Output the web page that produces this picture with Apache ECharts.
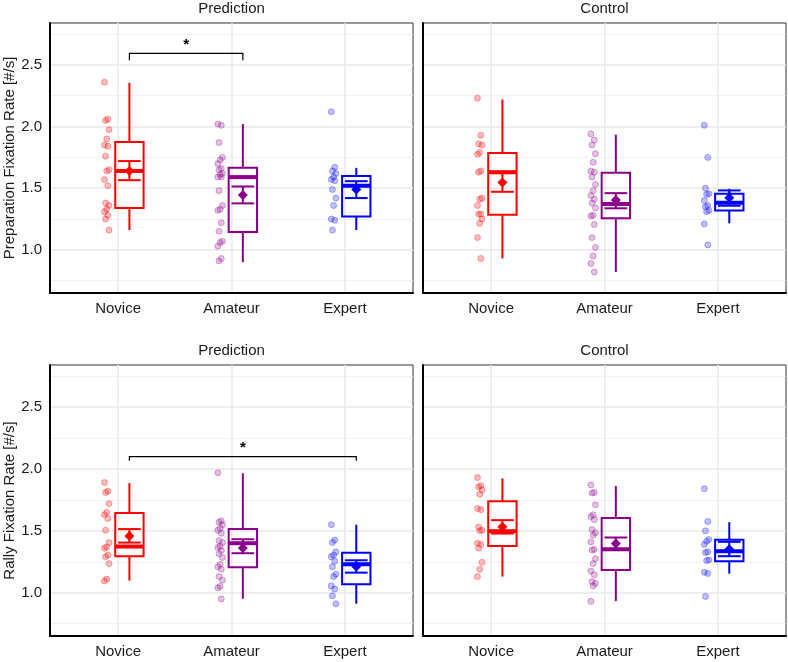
<!DOCTYPE html>
<html>
<head>
<meta charset="utf-8">
<script src="https://cdn.jsdelivr.net/npm/echarts@6/dist/echarts.min.js"></script>
<style>
  html, body { margin: 0; padding: 0; background: #fff; }
  #main { width: 788px; height: 662px; }
</style>
</head>
<body>
<div id="main"></div>
<script>
const groups = ['Novice', 'Amateur', 'Expert'];
const panelTitles = ['Prediction', 'Control', 'Prediction', 'Control'];
const yTitles = ['Preparation Fixation Rate [#/s]', 'Rally Fixation Rate [#/s]'];
const yTicks = [1.0, 1.5, 2.0, 2.5];
const yMinorTicks = [0.75, 1.25, 1.75, 2.25, 2.75];

// preparation, prediction task
const prepPredNovice = [2.36, 2.06, 2.05, 1.975, 1.90, 1.85, 1.84, 1.76, 1.65, 1.64, 1.57, 1.52, 1.38, 1.36, 1.33, 1.31, 1.28, 1.25, 1.16];
const prepPredAmateur = [2.02, 2.01, 1.87, 1.75, 1.73, 1.70, 1.66, 1.65, 1.62, 1.61, 1.59, 1.59, 1.48, 1.36, 1.33, 1.32, 1.22, 1.15, 1.07, 1.06, 1.03, 0.93, 0.91];
const prepPredExpert = [2.12, 1.67, 1.64, 1.62, 1.59, 1.57, 1.56, 1.49, 1.42, 1.36, 1.25, 1.24, 1.16];
// [min, q1, median, q3, max]
const prepPredBox = [[1.16, 1.34, 1.64, 1.875, 2.355], [0.90, 1.145, 1.59, 1.665, 2.02], [1.16, 1.27, 1.52, 1.60, 1.665]];
const prepPredMean = [1.64, 1.445, 1.49];
const prepPredSeLow = [1.565, 1.377, 1.42];
const prepPredSeHigh = [1.72, 1.514, 1.557];

// preparation, control task
const prepCtrlNovice = [2.23, 1.93, 1.86, 1.85, 1.79, 1.775, 1.64, 1.63, 1.42, 1.41, 1.36, 1.29, 1.29, 1.25, 1.215, 1.10, 0.93];
const prepCtrlAmateur = [1.94, 1.89, 1.85, 1.78, 1.71, 1.64, 1.63, 1.59, 1.53, 1.48, 1.44, 1.41, 1.38, 1.34, 1.28, 1.275, 1.205, 1.10, 1.02, 0.95, 0.89, 0.82];
const prepCtrlExpert = [2.01, 1.75, 1.50, 1.455, 1.45, 1.40, 1.36, 1.35, 1.32, 1.31, 1.21, 1.04];
const prepCtrlBox = [[0.93, 1.285, 1.63, 1.786, 2.22], [0.82, 1.256, 1.372, 1.625, 1.934], [1.215, 1.32, 1.382, 1.455, 1.495]];
const prepCtrlMean = [1.547, 1.404, 1.423];
const prepCtrlSeLow = [1.471, 1.337, 1.358];
const prepCtrlSeHigh = [1.622, 1.46, 1.482];

// rally, prediction task
const rallyPredNovice = [1.89, 1.82, 1.81, 1.72, 1.65, 1.63, 1.60, 1.505, 1.405, 1.37, 1.36, 1.305, 1.29, 1.235, 1.11, 1.095];
const rallyPredAmateur = [1.97, 1.58, 1.57, 1.55, 1.52, 1.505, 1.48, 1.42, 1.405, 1.375, 1.365, 1.34, 1.315, 1.285, 1.23, 1.21, 1.19, 1.13, 1.10, 1.05, 1.04, 0.95];
const rallyPredExpert = [1.55, 1.425, 1.405, 1.33, 1.305, 1.29, 1.255, 1.21, 1.15, 1.13, 1.055, 1.03, 0.975, 0.91];
const rallyPredBox = [[1.097, 1.295, 1.373, 1.643, 1.886], [0.951, 1.205, 1.40, 1.514, 1.965], [0.911, 1.068, 1.23, 1.322, 1.549]];
const rallyPredMean = [1.459, 1.362, 1.211];
const rallyPredSeLow = [1.405, 1.319, 1.162];
const rallyPredSeHigh = [1.514, 1.432, 1.262];

// rally, control task
const rallyCtrlNovice = [1.93, 1.865, 1.855, 1.83, 1.795, 1.68, 1.67, 1.53, 1.505, 1.50, 1.40, 1.39, 1.36, 1.245, 1.19, 1.13];
const rallyCtrlAmateur = [1.87, 1.81, 1.805, 1.71, 1.63, 1.615, 1.59, 1.51, 1.485, 1.465, 1.41, 1.35, 1.345, 1.275, 1.235, 1.175, 1.145, 1.09, 1.075, 1.055, 0.93];
const rallyCtrlExpert = [1.84, 1.575, 1.50, 1.43, 1.415, 1.39, 1.33, 1.325, 1.265, 1.26, 1.165, 1.155, 0.97];
const rallyCtrlBox = [[1.13, 1.378, 1.497, 1.738, 1.924], [0.932, 1.184, 1.351, 1.603, 1.862], [1.154, 1.254, 1.335, 1.427, 1.57]];
const rallyCtrlMean = [1.532, 1.397, 1.351];
const rallyCtrlSeLow = [1.478, 1.347, 1.295];
const rallyCtrlSeHigh = [1.586, 1.446, 1.411];

// significance brackets: panel, group indexes, bar height, tip end
const sigBrackets = [
  { panel: 0, from: 0, to: 1, y: 2.594, tip: 2.538, label: '*' },
  { panel: 2, from: 0, to: 2, y: 2.10, tip: 2.067, label: '*' }
];

const panels = [
  { pts: [prepPredNovice, prepPredAmateur, prepPredExpert], box: prepPredBox, mean: prepPredMean, lo: prepPredSeLow, hi: prepPredSeHigh },
  { pts: [prepCtrlNovice, prepCtrlAmateur, prepCtrlExpert], box: prepCtrlBox, mean: prepCtrlMean, lo: prepCtrlSeLow, hi: prepCtrlSeHigh },
  { pts: [rallyPredNovice, rallyPredAmateur, rallyPredExpert], box: rallyPredBox, mean: rallyPredMean, lo: rallyPredSeLow, hi: rallyPredSeHigh },
  { pts: [rallyCtrlNovice, rallyCtrlAmateur, rallyCtrlExpert], box: rallyCtrlBox, mean: rallyCtrlMean, lo: rallyCtrlSeLow, hi: rallyCtrlSeHigh }
];

const colors = ['#FF0000', '#8B008B', '#0000FF'];
const pointFill = ['rgba(255,0,0,0.32)', 'rgba(139,0,139,0.3)', 'rgba(0,0,255,0.3)'];
const pointEdge = ['rgba(255,0,0,0.4)', 'rgba(139,0,139,0.38)', 'rgba(0,0,255,0.38)'];
const FONT = 'Liberation Sans, Arial, sans-serif';
const TXT = '#1a1a1a';

const gridRects = [
  { left: 50, top: 23, width: 363, height: 270 },
  { left: 423, top: 23, width: 363, height: 270 },
  { left: 50, top: 365, width: 363, height: 271 },
  { left: 423, top: 365, width: 363, height: 271 }
];

const BOX_SHIFT = 0.1;   // boxes nudged right of category
const PT_SHIFT = -0.1;   // points nudged left
const BOX_HALF = 0.125;
const CAP_HALF = 0.1;

const grids = [], xAxes = [], yAxes = [], series = [], graphics = [];

gridRects.forEach((g, i) => {
  grids.push(Object.assign({ show: true, borderColor: '#333', borderWidth: 1, backgroundColor: '#fff' }, g));

  xAxes.push({
    type: 'value', gridIndex: i, min: 0.4, max: 3.6,
    axisLine: { show: true, onZero: false, lineStyle: { color: '#000', width: 2 } },
    axisTick: { show: false, customValues: [1, 2, 3] },
    axisLabel: { customValues: [1, 2, 3], formatter: v => groups[Math.round(v) - 1], fontSize: 15, color: TXT, fontFamily: FONT, margin: 8 },
    splitLine: { show: true, lineStyle: { color: '#e8e8e8', width: 1.5 } }
  });

  const isLeft = i % 2 === 0;
  yAxes.push({
    type: 'value', gridIndex: i, min: 0.65, max: 2.84,
    name: isLeft ? yTitles[i / 2] : '',
    nameLocation: 'middle', nameGap: 32,
    nameTextStyle: { fontSize: 15, color: TXT, fontFamily: FONT },
    axisLine: { show: true, onZero: false, lineStyle: { color: '#000', width: 2 } },
    axisTick: { show: false, customValues: yTicks },
    axisLabel: { show: isLeft, customValues: yTicks, formatter: v => v.toFixed(1), fontSize: 15, color: TXT, fontFamily: FONT, margin: 8 },
    splitLine: { show: true, lineStyle: { color: '#e8e8e8', width: 1.5 } }
  });
  // minor grid lines
  yAxes.push({
    type: 'value', gridIndex: i, min: 0.65, max: 2.84, position: 'left',
    axisLine: { show: false }, axisTick: { show: false, customValues: yMinorTicks },
    axisLabel: { show: false, customValues: yMinorTicks },
    splitLine: { show: true, lineStyle: { color: '#f1f1f1', width: 1 } }
  });

  const p = panels[i];
  const yIdx = i * 2;

  // jittered raw points
  const scatterData = [];
  p.pts.forEach((arr, gi) => {
    arr.forEach((v, k) => {
      const jit = ((k * 3) % 5 - 2) * 0.01;
      scatterData.push({
        value: [gi + 1 + PT_SHIFT + jit, v],
        itemStyle: { color: pointFill[gi], borderColor: pointEdge[gi], borderWidth: 1 }
      });
    });
  });
  series.push({
    type: 'scatter', xAxisIndex: i, yAxisIndex: yIdx, symbolSize: 6,
    data: scatterData, silent: true, z: 3
  });

  // boxplots
  series.push({
    type: 'custom', xAxisIndex: i, yAxisIndex: yIdx, z: 4, silent: true,
    data: p.box.map((b, gi) => [gi + 1].concat(b)),
    renderItem: (params, api) => {
      const gi = Math.round(api.value(0)) - 1;
      const cx = api.value(0) + BOX_SHIFT;
      const c = colors[gi];
      const lt = api.coord([cx - BOX_HALF, api.value(4)]);
      const rb = api.coord([cx + BOX_HALF, api.value(2)]);
      const top = api.coord([cx, api.value(5)]);
      const bot = api.coord([cx, api.value(1)]);
      const medL = api.coord([cx - BOX_HALF, api.value(3)]);
      const medR = api.coord([cx + BOX_HALF, api.value(3)]);
      const st = { stroke: c, lineWidth: 2, fill: null };
      return {
        type: 'group',
        children: [
          { type: 'line', shape: { x1: top[0], y1: top[1], x2: top[0], y2: lt[1] }, style: st },
          { type: 'line', shape: { x1: bot[0], y1: bot[1], x2: bot[0], y2: rb[1] }, style: st },
          { type: 'rect', shape: { x: lt[0], y: lt[1], width: rb[0] - lt[0], height: rb[1] - lt[1] }, style: { stroke: c, lineWidth: 2, fill: 'rgba(255,255,255,0)' } },
          { type: 'line', shape: { x1: medL[0], y1: medL[1], x2: medR[0], y2: medR[1] }, style: { stroke: c, lineWidth: 4 } }
        ]
      };
    }
  });

  // mean +/- SE
  series.push({
    type: 'custom', xAxisIndex: i, yAxisIndex: yIdx, z: 5, silent: true,
    data: p.mean.map((m, gi) => [gi + 1, m, p.lo[gi], p.hi[gi]]),
    renderItem: (params, api) => {
      const gi = Math.round(api.value(0)) - 1;
      const cx = api.value(0) + BOX_SHIFT;
      const c = colors[gi];
      const m = api.coord([cx, api.value(1)]);
      const loL = api.coord([cx - CAP_HALF, api.value(2)]);
      const loR = api.coord([cx + CAP_HALF, api.value(2)]);
      const hiL = api.coord([cx - CAP_HALF, api.value(3)]);
      const hiR = api.coord([cx + CAP_HALF, api.value(3)]);
      const st = { stroke: c, lineWidth: 2 };
      const d = 5;
      return {
        type: 'group',
        children: [
          { type: 'line', shape: { x1: m[0], y1: loL[1], x2: m[0], y2: hiL[1] }, style: st },
          { type: 'line', shape: { x1: loL[0], y1: loL[1], x2: loR[0], y2: loR[1] }, style: st },
          { type: 'line', shape: { x1: hiL[0], y1: hiL[1], x2: hiR[0], y2: hiR[1] }, style: st },
          { type: 'polygon', shape: { points: [[m[0], m[1] - d], [m[0] + d, m[1]], [m[0], m[1] + d], [m[0] - d, m[1]]] }, style: { fill: c } }
        ]
      };
    }
  });

  graphics.push({
    type: 'text', x: g.left + g.width / 2, y: g.top - 22,
    style: { text: panelTitles[i], textAlign: 'center', textVerticalAlign: 'top', font: '15px ' + FONT, fill: TXT }
  });
});

// significance brackets
sigBrackets.forEach(b => {
  series.push({
    type: 'custom', xAxisIndex: b.panel, yAxisIndex: b.panel * 2, z: 6, silent: true,
    data: [[b.from + 1, b.to + 1, b.y, b.tip]],
    renderItem: (params, api) => {
      const x1 = api.value(0) + BOX_SHIFT, x2 = api.value(1) + BOX_SHIFT;
      const a = api.coord([x1, api.value(3)]);
      const bb = api.coord([x1, api.value(2)]);
      const c = api.coord([x2, api.value(2)]);
      const d = api.coord([x2, api.value(3)]);
      return {
        type: 'group',
        children: [
          { type: 'polyline', shape: { points: [a, bb, c, d] }, style: { stroke: '#000', lineWidth: 1.2, fill: null } },
          { type: 'text', x: (bb[0] + c[0]) / 2, y: bb[1] - 1, style: { text: b.label, textAlign: 'center', textVerticalAlign: 'bottom', font: 'bold 15px ' + FONT, fill: '#000' } }
        ]
      };
    }
  });
});

const chart = echarts.init(document.getElementById('main'));
chart.setOption({
  animation: false,
  backgroundColor: '#fff',
  textStyle: { fontFamily: FONT },
  grid: grids,
  xAxis: xAxes,
  yAxis: yAxes,
  series: series,
  graphic: graphics
});
</script>
</body>
</html>
